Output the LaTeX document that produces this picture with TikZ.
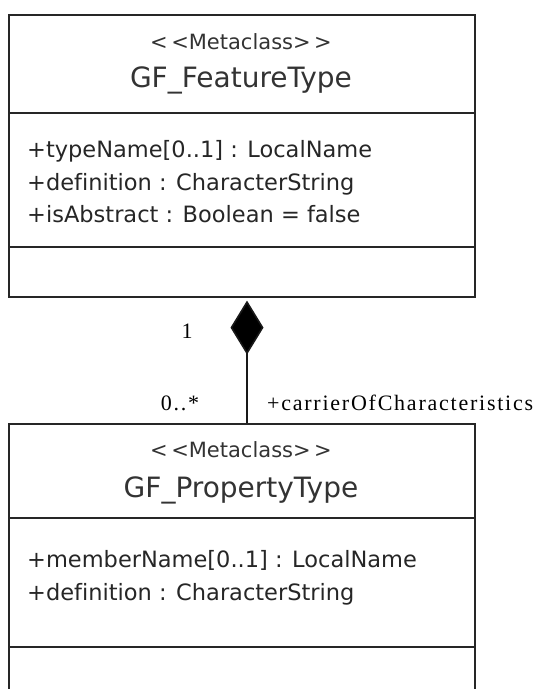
\documentclass[tikz,border=0pt]{standalone}
\usepackage{fontspec}
\setmainfont{DejaVu Sans}[Ligatures=NoCommon]
\newfontfamily\rolefont{Liberation Serif}[LetterSpace=8]
\usetikzlibrary{arrows.meta}
\newcommand{\stereotext}[1]{\textless\,\textless #1\textgreater\,\textgreater}
\begin{document}
\begin{tikzpicture}[x=1pt,y=-1pt,
  classbox/.style={draw=black!85, line width=1.6pt, inner sep=0pt,
    minimum width=466pt, anchor=north west},
  divider/.style={draw=black!85, line width=1.6pt},
  stereo/.style={font=\fontsize{21}{21}\selectfont, text=black!80, anchor=base, inner sep=0pt},
  classname/.style={font=\fontsize{28}{28}\selectfont, text=black!80, anchor=base, inner sep=0pt},
  attr/.style={font=\fontsize{22.5}{22.5}\selectfont, text=black!85, anchor=base west, inner sep=0pt},
  role/.style={font=\rolefont\fontsize{22}{22}\selectfont, anchor=base, inner sep=0pt},
  assoc/.style={draw=black!90, line width=1.6pt}
]
\useasboundingbox (0,0) rectangle (541,689);
\clip (0,0) rectangle (541,689);

% GF_FeatureType class
\node[classbox, minimum height=282pt] (fb) at (8,14) {};
\draw[divider] (fb.west |- 0,113) -- (fb.east |- 0,113);
\draw[divider] (fb.west |- 0,247) -- (fb.east |- 0,247);
\node[stereo] (fbst) at (241,49) {\stereotext{Metaclass}};
\node[classname] (fbname) at (241,87) {GF\_FeatureType};
\node[attr] (fba1) at (27,157) {+typeName[0..1] : LocalName};
\node[attr] (fba2) at (27,190) {+definition : CharacterString};
\node[attr] (fba3) at (27,222) {+isAbstract : Boolean = false};

% GF_PropertyType class (runs past the lower edge)
\node[classbox, minimum height=300pt] (pb) at (8,423) {};
\draw[divider] (pb.west |- 0,518) -- (pb.east |- 0,518);
\draw[divider] (pb.west |- 0,647) -- (pb.east |- 0,647);
\node[stereo] (pbst) at (241,457) {\stereotext{Metaclass}};
\node[classname] (pbname) at (241,497) {GF\_PropertyType};
\node[attr] (pba1) at (27,567) {+memberName[0..1] : LocalName};
\node[attr] (pba2) at (27,600) {+definition : CharacterString};

% composition link
\coordinate (lx) at (247,0);
\draw[assoc, {Diamond[length=54pt,width=33pt,fill=black]}-, shorten <=3pt]
  (fb.south -| lx) -- (pb.north -| lx);
\node[role] (m1) at (187,338) {1};
\node[role] (m2) at (180,410) {0..*};
\node[role, anchor=base west] (rn) at (267,410) {+carrierOfCharacteristics};
\end{tikzpicture}
\end{document}
